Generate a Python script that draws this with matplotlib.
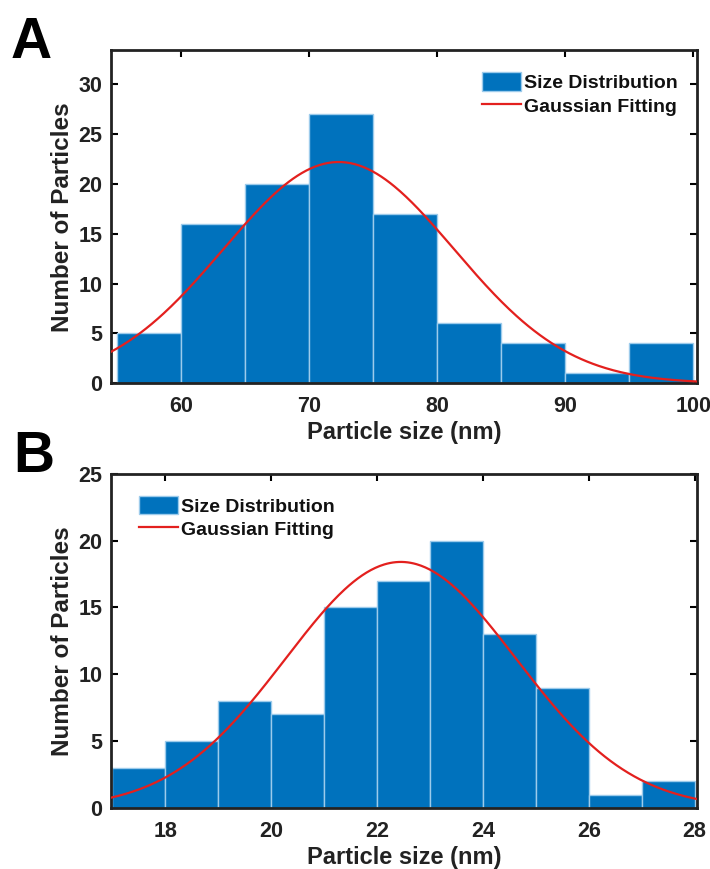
import numpy as np
import matplotlib.pyplot as plt

# Panel A data (particle size histogram, nm)
a_edges = [55, 60, 65, 70, 75, 80, 85, 90, 95]
a_counts = [5, 16, 20, 27, 17, 6, 4, 1, 4]
a_bin_width = 5
a_xticks = [60, 70, 80, 90, 100]
a_yticks = [0, 5, 10, 15, 20, 25, 30]
a_fit_peak, a_fit_mean, a_fit_sigma = 22.2, 72.3, 9.0

# Panel B data
b_edges = [17, 18, 19, 20, 21, 22, 23, 24, 25, 26, 27]
b_counts = [3, 5, 8, 7, 15, 17, 20, 13, 9, 1, 2]
b_bin_width = 1
b_xticks = [18, 20, 22, 24, 26, 28]
b_yticks = [0, 5, 10, 15, 20, 25]
b_fit_peak, b_fit_mean, b_fit_sigma = 18.4, 22.45, 2.18

bar_color = '#0072BD'
line_color = '#E3201E'

plt.rcParams['font.family'] = ['Liberation Sans', 'DejaVu Sans']
plt.rcParams['font.weight'] = 'bold'


def gauss(x, peak, mean, sigma):
    return peak * np.exp(-(x - mean) ** 2 / (2 * sigma ** 2))


def draw_panel(ax, edges, counts, width, fit, xlim, ylim, xticks, yticks, legend_loc, legend_anchor):
    bars = ax.bar(edges, counts, width=width, align='edge', color=bar_color,
                  edgecolor='#9CCBEB', linewidth=1.0, zorder=2)
    xs = np.linspace(xlim[0], xlim[1], 400)
    line, = ax.plot(xs, gauss(xs, *fit), color=line_color, lw=1.6, zorder=3)
    ax.set_xlim(*xlim)
    ax.set_ylim(*ylim)
    ax.set_xticks(xticks)
    ax.set_yticks(yticks)
    ax.tick_params(direction='in', length=5, width=1.5, top=True, right=True,
                   labelsize=15.5)
    ax.tick_params(axis='x', pad=9)
    ax.tick_params(axis='y', pad=6)
    for lbl in ax.get_xticklabels() + ax.get_yticklabels():
        lbl.set_fontweight('bold')
        lbl.set_color('#222222')
    for s in ax.spines.values():
        s.set_linewidth(2)
        s.set_color('#222222')
    ax.set_xlabel('Particle size (nm)', fontsize=17, fontweight='bold', color='#222222', labelpad=3)
    ax.set_ylabel('Number of Particles', fontsize=17.5, fontweight='bold', color='#222222', labelpad=3)
    leg = ax.legend([bars, line], ['Size Distribution', 'Gaussian Fitting'],
                    loc=legend_loc, bbox_to_anchor=legend_anchor, frameon=False,
                    prop={'size': 14, 'weight': 'bold'}, handlelength=2.0, handleheight=1.1,
                    handletextpad=0.15, labelspacing=0.2, borderaxespad=0.3)
    for t in leg.get_texts():
        t.set_color('#111111')


fig = plt.figure(figsize=(7.1, 8.69), dpi=100)

ax1 = fig.add_axes([0.156, 0.559, 0.826, 0.383])
draw_panel(ax1, a_edges, a_counts, a_bin_width,
           (a_fit_peak, a_fit_mean, a_fit_sigma),
           (54.5, 100.3), (0, 33.4), a_xticks, a_yticks,
           'upper right', (0.99, 0.975))

ax2 = fig.add_axes([0.156, 0.070, 0.826, 0.385])
draw_panel(ax2, b_edges, b_counts, b_bin_width,
           (b_fit_peak, b_fit_mean, b_fit_sigma),
           (16.97, 28.05), (0, 25), b_xticks, b_yticks,
           'upper left', (0.025, 0.975))

fig.text(0.015, 0.982, 'A', fontsize=41, fontweight='bold', va='top', ha='left')
fig.text(0.018, 0.505, 'B', fontsize=41, fontweight='bold', va='top', ha='left')

fig.savefig('out.png', dpi=100)
